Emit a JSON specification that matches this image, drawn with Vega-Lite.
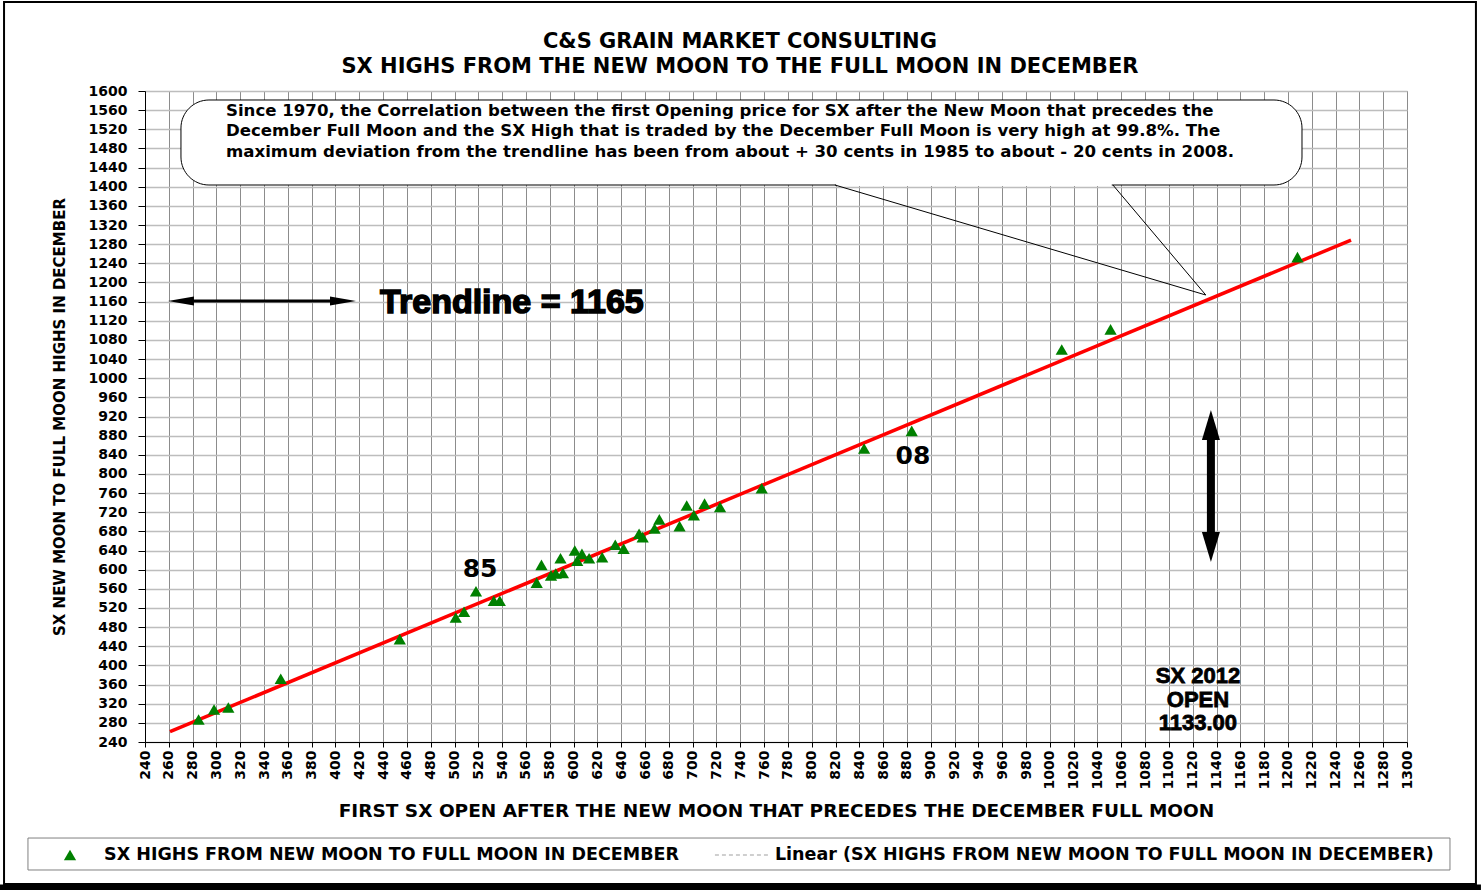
{
  "$schema": "https://vega.github.io/schema/vega-lite/v6.json",
  "autosize": {"type": "none"},
  "width": 1262,
  "height": 651,
  "padding": {"left": 145, "top": 91, "right": 74, "bottom": 148},
  "background": "white",
  "config": {
    "view": {"stroke": "#808080", "strokeWidth": 1},
    "font": "DejaVu Sans"
  },
  "encoding": {
    "x": {
      "field": "x", "type": "quantitative",
      "scale": {"domain": [240, 1300], "nice": false, "zero": false},
      "axis": {
        "title": "FIRST SX OPEN AFTER THE NEW MOON THAT PRECEDES THE DECEMBER FULL MOON",
        "values": [240,260,280,300,320,340,360,380,400,420,440,460,480,500,520,540,560,580,600,620,640,660,680,700,720,740,760,780,800,820,840,860,880,900,920,940,960,980,1000,1020,1040,1060,1080,1100,1120,1140,1160,1180,1200,1220,1240,1260,1280,1300],
        "format": "d",
        "labelAngle": -90,
        "labelFlush": false,
        "labelOverlap": false,
        "labelFont": "DejaVu Sans",
        "labelFontWeight": "bold",
        "labelFontSize": 14,
        "labelColor": "black",
        "labelPadding": 3,
        "tickColor": "black",
        "tickSize": 5,
        "domainColor": "black",
        "grid": true,
        "gridColor": "#8c8c8c",
        "gridWidth": 1,
        "titleFont": "DejaVu Sans",
        "titleFontWeight": "bold",
        "titleFontSize": 18.5,
        "titleColor": "black",
        "titlePadding": 13
      }
    },
    "y": {
      "field": "y", "type": "quantitative",
      "scale": {"domain": [240, 1600], "nice": false, "zero": false},
      "axis": {
        "title": "SX NEW MOON TO FULL MOON HIGHS IN DECEMBER",
        "values": [240,280,320,360,400,440,480,520,560,600,640,680,720,760,800,840,880,920,960,1000,1040,1080,1120,1160,1200,1240,1280,1320,1360,1400,1440,1480,1520,1560,1600],
        "format": "d",
        "labelFlush": false,
        "labelOverlap": false,
        "labelFont": "DejaVu Sans",
        "labelFontWeight": "bold",
        "labelFontSize": 14,
        "labelColor": "black",
        "labelPadding": 11,
        "tickColor": "black",
        "tickSize": 7,
        "domainColor": "black",
        "grid": true,
        "gridColor": "#bdbdbd",
        "gridWidth": 1.5,
        "titleFont": "DejaVu Sans",
        "titleFontWeight": "bold",
        "titleFontSize": 15,
        "titleColor": "black",
        "titlePadding": 21
      }
    }
  },
  "layer": [
    {
      "data": {"values": [{"x": 121.6, "x2": 1357.9, "y": 1785.9, "y2": -56.7}]},
      "mark": {"type": "rect", "fill": "white", "fillOpacity": 0, "stroke": "black", "strokeWidth": 2},
      "encoding": {"x2": {"field": "x2"}, "y2": {"field": "y2"}}
    },
    {
      "data": {"values": [{"x": 118.2, "x2": 1362.1, "y": -57.5, "y2": -69.5}]},
      "mark": {"type": "rect", "fill": "black"},
      "encoding": {"x2": {"field": "x2"}, "y2": {"field": "y2"}}
    },
    {
      "data": {"values": [
        {"x": 739.7, "y": 1702.4, "line": "C&S GRAIN MARKET CONSULTING"},
        {"x": 739.7, "y": 1650.1, "line": "SX HIGHS FROM THE NEW MOON TO THE FULL MOON IN DECEMBER"}
      ]},
      "mark": {"type": "text", "align": "center", "baseline": "middle", "font": "DejaVu Sans", "fontWeight": "bold", "fontSize": 21, "color": "black"},
      "encoding": {"text": {"field": "line"}}
    },
    {
      "data": {"values": [{"x": 141.7, "x2": 1336.1, "y": 39.4, "y2": -27.4}]},
      "mark": {"type": "rect", "fill": "white", "stroke": "#808080", "strokeWidth": 1},
      "encoding": {"x2": {"field": "x2"}, "y2": {"field": "y2"}}
    },
    {
      "data": {"values": [{"x": 177, "y": 3.9}]},
      "mark": {"type": "point", "shape": "triangle-up", "filled": true, "color": "#008000", "size": 150, "opacity": 1}
    },
    {
      "data": {"values": [{"x": 718.7, "x2": 764.9, "y": 3.9}]},
      "mark": {"type": "rule", "color": "#c0c0c0", "strokeWidth": 1.5, "strokeDash": [4, 3]},
      "encoding": {"x2": {"field": "x2"}}
    },
    {
      "data": {"values": [
        {"x": 205.6, "y": 3.9, "label": "SX HIGHS FROM NEW MOON TO FULL MOON IN DECEMBER"},
        {"x": 769.1, "y": 3.9, "label": "Linear (SX HIGHS FROM NEW MOON TO FULL MOON IN DECEMBER)"}
      ]},
      "mark": {"type": "text", "align": "left", "baseline": "middle", "font": "DejaVu Sans", "fontWeight": "bold", "fontSize": 17.5, "color": "black"},
      "encoding": {"text": {"field": "label"}}
    },
    {
      "data": {"values": [{"x": 270.2, "x2": 1211.8, "y": 1581.2, "y2": 1403.6}]},
      "mark": {"type": "rect", "fill": "white", "stroke": "black", "strokeWidth": 1, "cornerRadius": 28},
      "encoding": {"x2": {"field": "x2"}, "y2": {"field": "y2"}}
    },
    {
      "data": {"values": [{"x": 820.5, "x2": 1052, "y": 1403.6}]},
      "mark": {"type": "rule", "color": "white", "strokeWidth": 2},
      "encoding": {"x2": {"field": "x2"}}
    },
    {
      "data": {"values": [
        {"x": 819.5, "y": 1403.6, "x2": 1131, "y2": 1173.8},
        {"x": 1053, "y": 1403.6, "x2": 1131, "y2": 1173.8}
      ]},
      "mark": {"type": "rule", "color": "black", "strokeWidth": 1},
      "encoding": {"x2": {"field": "x2"}, "y2": {"field": "y2"}}
    },
    {
      "data": {"values": [
        {"x": 308, "y": 1558.2, "line": "Since 1970, the Correlation between the first Opening price for SX after the New Moon that precedes the"},
        {"x": 308, "y": 1516.4, "line": "December Full Moon and the SX High that is traded by the December Full Moon is very high at 99.8%. The"},
        {"x": 308, "y": 1472.6, "line": "maximum deviation from the trendline has been from about + 30 cents in 1985 to about - 20 cents in 2008."}
      ]},
      "mark": {"type": "text", "align": "left", "baseline": "middle", "font": "DejaVu Sans", "fontWeight": "bold", "fontSize": 16.6, "color": "black"},
      "encoding": {"text": {"field": "line"}}
    },
    {
      "data": {"values": [{"x": 261, "y": 261.5}, {"x": 1253, "y": 1288.5}]},
      "mark": {"type": "line", "color": "#ff0000", "strokeWidth": 3.5}
    },
    {
      "data": {"values": [
        {"x": 285, "y": 287}, {"x": 298, "y": 308}, {"x": 310, "y": 312},
        {"x": 354, "y": 372}, {"x": 454, "y": 455}, {"x": 501, "y": 500},
        {"x": 508, "y": 512}, {"x": 518, "y": 555}, {"x": 533, "y": 535},
        {"x": 538, "y": 535}, {"x": 569, "y": 573}, {"x": 573, "y": 610},
        {"x": 581, "y": 588}, {"x": 585, "y": 592}, {"x": 589, "y": 624},
        {"x": 591, "y": 593}, {"x": 601, "y": 640}, {"x": 603, "y": 619},
        {"x": 607, "y": 633}, {"x": 613, "y": 624}, {"x": 624, "y": 626},
        {"x": 635, "y": 652}, {"x": 642, "y": 644}, {"x": 655, "y": 675},
        {"x": 658, "y": 668}, {"x": 668, "y": 686}, {"x": 672, "y": 705},
        {"x": 689, "y": 691}, {"x": 695, "y": 734}, {"x": 701, "y": 714},
        {"x": 710, "y": 738}, {"x": 723, "y": 731}, {"x": 758, "y": 770},
        {"x": 844, "y": 853}, {"x": 884, "y": 890}, {"x": 1010, "y": 1060},
        {"x": 1051, "y": 1102}, {"x": 1208, "y": 1253}
      ]},
      "mark": {"type": "point", "shape": "triangle-up", "filled": true, "color": "#008000", "size": 150, "opacity": 1}
    },
    {
      "data": {"values": [{"x": 548.2, "y": 1157.1, "label": "Trendline = 1165"}]},
      "mark": {"type": "text", "align": "center", "baseline": "middle", "font": "Liberation Sans", "fontWeight": "bold", "fontSize": 34, "color": "black", "stroke": "black", "strokeWidth": 1.5},
      "encoding": {"text": {"field": "label"}}
    },
    {
      "data": {"values": [{"x": 521.4, "y": 601.4, "label": "85"}, {"x": 885, "y": 837.5, "label": "08"}]},
      "mark": {"type": "text", "align": "center", "baseline": "middle", "font": "DejaVu Sans", "fontWeight": "bold", "fontSize": 25, "color": "black"},
      "encoding": {"text": {"field": "label"}}
    },
    {
      "data": {"values": [
        {"x": 1124.4, "y": 377.9, "label": "SX 2012"},
        {"x": 1124.4, "y": 327.7, "label": "OPEN"},
        {"x": 1124.4, "y": 279.7, "label": "1133.00"}
      ]},
      "mark": {"type": "text", "align": "center", "baseline": "middle", "font": "Liberation Sans", "fontWeight": "bold", "fontSize": 22, "color": "black", "stroke": "black", "strokeWidth": 0.8},
      "encoding": {"text": {"field": "label"}}
    },
    {
      "data": {"values": [{"x": 275, "x2": 402, "y": 1161.3}]},
      "mark": {"type": "rule", "color": "black", "strokeWidth": 3},
      "encoding": {"x2": {"field": "x2"}}
    },
    {
      "data": {"values": [{"x": 1135.3, "y": 891.8, "y2": 657.8}]},
      "mark": {"type": "rule", "color": "black", "strokeWidth": 8},
      "encoding": {"y2": {"field": "y2"}}
    },
    {
      "data": {"values": [
        {"x": 270.2, "y": 1161.3, "dir": "left"},
        {"x": 406.3, "y": 1161.3, "dir": "right"}
      ]},
      "mark": {"type": "point", "filled": true, "color": "black", "opacity": 1, "size": 676},
      "encoding": {
        "shape": {"field": "dir", "type": "nominal", "scale": {"domain": ["left", "right", "up", "down"], "range": ["M-1,0L1,-0.35L1,0.35Z", "M1,0L-1,-0.35L-1,0.35Z", "M0,-1L0.6,1L-0.6,1Z", "M0,1L0.6,-1L-0.6,-1Z"]}, "legend": null}
      }
    },
    {
      "data": {"values": [
        {"x": 1135.3, "y": 902.2, "dir": "up"},
        {"x": 1135.3, "y": 647.4, "dir": "down"}
      ]},
      "mark": {"type": "point", "filled": true, "color": "black", "opacity": 1, "size": 900},
      "encoding": {
        "shape": {"field": "dir", "type": "nominal", "scale": {"domain": ["left", "right", "up", "down"], "range": ["M-1,0L1,-0.35L1,0.35Z", "M1,0L-1,-0.35L-1,0.35Z", "M0,-1L0.6,1L-0.6,1Z", "M0,1L0.6,-1L-0.6,-1Z"]}, "legend": null}
      }
    }
  ]
}
